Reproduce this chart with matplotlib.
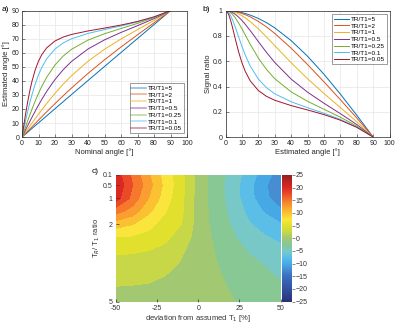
import numpy as np
import matplotlib.pyplot as plt
from matplotlib.colors import LinearSegmentedColormap

# nominal flip angle (deg)
angle = [0, 1, 2, 3, 4, 5, 6, 8, 10, 12, 15, 20, 25, 30, 40, 50, 60, 70, 80, 90]

labels = ['TR/T1=5', 'TR/T1=2', 'TR/T1=1', 'TR/T1=0.5', 'TR/T1=0.25', 'TR/T1=0.1', 'TR/T1=0.05']

# a) estimated angle
est_5 = [0, 1.0, 2.0, 3.0, 4.0, 5.05, 6.06, 8.08, 10.10, 12.12, 15.14, 20.19, 25.22, 30.25, 40.27, 50.26, 60.22, 70.16, 80.08, 90]
est_2 = [0, 1.21, 2.43, 3.63, 4.84, 6.05, 7.26, 9.63, 12.06, 14.45, 17.99, 23.78, 29.43, 34.91, 45.32, 55.01, 64.11, 72.81, 81.35, 90]
est_1 = [0, 1.66, 3.31, 4.96, 6.61, 8.25, 9.88, 13.11, 16.29, 19.41, 23.96, 31.12, 37.70, 43.68, 54.01, 62.53, 69.84, 76.51, 83.06, 90]
est_05 = [0, 2.37, 4.74, 7.09, 9.42, 11.72, 14.01, 18.46, 22.75, 26.85, 32.58, 40.99, 48.02, 53.84, 62.72, 69.22, 74.50, 79.33, 84.32, 90]
est_025 = [0, 3.40, 6.78, 10.11, 13.39, 16.60, 19.73, 25.67, 31.15, 36.14, 42.68, 51.34, 57.73, 62.50, 69.06, 73.57, 77.31, 80.96, 85.03, 90]
est_01 = [0, 5.42, 10.75, 15.94, 20.90, 25.58, 29.97, 37.75, 44.25, 49.58, 55.78, 62.71, 67.06, 69.99, 73.81, 76.56, 79.13, 81.98, 85.46, 90]
est_005 = [0, 7.67, 15.12, 22.13, 28.56, 34.36, 39.48, 47.84, 54.08, 58.71, 63.57, 68.43, 71.24, 73.08, 75.58, 77.62, 79.76, 82.33, 85.61, 90]

# b) signal ratio
sr_5 = [1, .99985, .99936, .99860, .99752, .99612, .99441, .99012, .98451, .97772, .96527, .93859, .90469, .86388, .76298, .63926, .49664, .33948, .17235, 0]
sr_2 = [1, .99978, .99910, .99799, .99643, .99442, .99198, .98591, .97792, .96839, .95113, .91506, .87091, .82001, .70315, .57340, .43662, .29555, .15044, 0]
sr_1 = [1, .99958, .99833, .99625, .99335, .98965, .98516, .97392, .95983, .94313, .91383, .85611, .79124, .72313, .58771, .46132, .34464, .23325, .12080, 0]
sr_05 = [1, .99915, .99659, .99236, .98651, .97911, .97024, .94849, .92214, .89219, .84264, .75483, .66889, .59007, .45840, .35481, .26730, .18508, .09896, 0]
sr_025 = [1, .99824, .99302, .98446, .97279, .95829, .94128, .90127, .85578, .80758, .73507, .62467, .53385, .46172, .35735, .28277, .21974, .15716, .08671, 0]
sr_01 = [1, .99553, .98242, .96156, .93422, .90195, .86632, .79067, .71632, .64839, .56242, .45853, .38979, .34223, .27888, .23241, .18851, .13949, .07910, 0]
sr_005 = [1, .99106, .96539, .92634, .87826, .82551, .77183, .67114, .58662, .51933, .44501, .36760, .32163, .29102, .24896, .21436, .17768, .13348, .07655, 0]

# c) error map, rows = TR/T1, columns = deviation
deviation = [-50, -40, -30, -20, -10, 0, 10, 20, 30, 40, 50]
tr_ratio = [0.1, 0.5, 1, 1.5, 2, 2.5, 3, 3.5, 4, 4.5, 5]
err = [
    [20.3, 15.8, 11.6, 7.6, 4.3, 0.2, -2.4, -4.5, -7.3, -10.0, -12.8],
    [21.0, 16.4, 12.2, 8.0, 4.5, 0.2, -2.5, -4.8, -7.8, -10.8, -13.5],
    [20.0, 15.5, 11.2, 7.4, 4.3, 0.2, -2.4, -4.7, -7.6, -10.5, -13.0],
    [14.8, 12.7, 9.3, 6.4, 4.1, 0.2, -2.2, -4.3, -6.8, -9.0, -10.8],
    [9.9, 8.9, 7.0, 5.3, 3.7, 0.15, -2.0, -3.9, -5.9, -7.5, -8.6],
    [6.2, 6.0, 5.4, 4.3, 2.7, 0.1, -1.6, -3.3, -4.9, -6.0, -7.0],
    [4.2, 4.1, 3.8, 3.2, 1.6, 0.1, -1.3, -2.6, -3.9, -4.8, -5.6],
    [3.0, 2.9, 2.7, 2.3, 1.0, 0.0, -1.1, -2.1, -3.2, -3.9, -4.6],
    [1.9, 1.9, 1.7, 1.25, 0.7, 0.0, -0.9, -1.7, -2.6, -3.3, -4.0],
    [1.1, 1.0, 0.9, 0.7, 0.5, 0.0, -0.7, -1.4, -2.2, -2.8, -3.4],
    [0.6, 0.5, 0.5, 0.4, 0.3, 0.0, -0.6, -1.1, -1.8, -2.4, -3.0],
]

colors = ['#0072BD', '#D95319', '#EDB120', '#7E2F8E', '#77AC30', '#4DBEEE', '#A2142F']
sa_list = [est_5, est_2, est_1, est_05, est_025, est_01, est_005]
sr_list = [sr_5, sr_2, sr_1, sr_05, sr_025, sr_01, sr_005]

plt.rcParams['font.family'] = ['Liberation Sans', 'DejaVu Sans']
fig = plt.figure(figsize=(4, 3.24), dpi=100)


def style_axes(ax):
    ax.grid(True, color='#e6e6e6', linewidth=0.5)
    ax.set_axisbelow(True)
    ax.tick_params(direction='in', labelsize=5, length=2, width=0.4, colors='#262626', pad=2)
    for s in ax.spines.values():
        s.set_color('#262626')
        s.set_linewidth(0.5)


def small_legend(ax, loc, anchor):
    lg = ax.legend(loc=loc, fontsize=4.6, frameon=True, fancybox=False,
                   edgecolor='#262626', handlelength=2.3, handletextpad=0.3,
                   labelspacing=0.2, borderpad=0.3, borderaxespad=0.2,
                   bbox_to_anchor=anchor)
    lg.get_frame().set_linewidth(0.4)
    return lg


ax1 = fig.add_axes([0.055, 0.577, 0.4125, 0.39])
for y, c, lb in zip(sa_list, colors, labels):
    ax1.plot(angle, y, color=c, lw=0.7, label=lb)
ax1.set_xlim(0, 100)
ax1.set_ylim(0, 90)
ax1.set_xticks(range(0, 101, 10))
ax1.set_yticks(range(0, 91, 10))
ax1.set_xlabel('Nominal angle [°]', fontsize=5.5, labelpad=1, color='#262626')
ax1.set_ylabel('Estimated angle [°]', fontsize=5.5, labelpad=1, color='#262626')
style_axes(ax1)
leg = small_legend(ax1, 'lower right', (0.99, 0.02))
for ln in leg.get_lines():
    ln.set_alpha(0.45)
    ln.set_linewidth(1.2)
fig.text(0.005, 0.965, 'a)', fontsize=6)

ax2 = fig.add_axes([0.564, 0.577, 0.41, 0.39])
for y, c, lb in zip(sr_list, colors, labels):
    ax2.plot(angle, y, color=c, lw=0.7, label=lb)
ax2.set_xlim(0, 100)
ax2.set_ylim(0, 1)
ax2.set_xticks(range(0, 101, 10))
ax2.set_yticks([0, 0.2, 0.4, 0.6, 0.8, 1])
ax2.set_yticklabels(['0', '0.2', '0.4', '0.6', '0.8', '1'])
ax2.set_xlabel('Estimated angle [°]', fontsize=5.5, labelpad=1, color='#262626')
ax2.set_ylabel('Signal ratio', fontsize=5.5, labelpad=1, color='#262626')
style_axes(ax2)
small_legend(ax2, 'upper right', (0.99, 0.98))
fig.text(0.505, 0.965, 'b)', fontsize=6)

# c) panel
cmap = LinearSegmentedColormap.from_list('err', [
    (0.00, '#283278'), (0.10, '#3250a0'), (0.20, '#3c6ebe'), (0.25, '#468cd2'),
    (0.30, '#46aae6'), (0.35, '#5abee6'), (0.40, '#78c8c8'), (0.45, '#87c896'),
    (0.50, '#a0c873'), (0.55, '#c8d746'), (0.60, '#e1e12d'), (0.65, '#fae63c'),
    (0.70, '#fac332'), (0.75, '#faa032'), (0.80, '#f5782d'), (0.85, '#eb4b28'),
    (0.90, '#dc2823'), (1.00, '#961e1e')])

ax3 = fig.add_axes([0.289, 0.069, 0.413, 0.391])
X, Y = np.meshgrid(deviation, tr_ratio)
levels = np.arange(-26.25, 26.3, 2.5)
cf = ax3.contourf(X, Y, np.array(err), levels=levels, cmap=cmap, vmin=-25, vmax=25)
ax3.set_xlim(-50, 50)
ax3.set_ylim(5, 0.1)
ax3.set_xticks([-50, -25, 0, 25, 50])
ax3.set_xticklabels(['-50', '-25', '0', '25', '50'])
ax3.set_yticks([0.1, 0.5, 1, 2, 5])
ax3.set_yticklabels(['0.1', '0.5', '1', '2', '5'])
ax3.tick_params(direction='in', labelsize=5, length=2, width=0.5, colors='#333333', pad=2)
ax3.tick_params(axis='x', pad=2.5)
for s in ax3.spines.values():
    s.set_visible(False)
ax3.set_xlabel('deviation from assumed T$_1$ [%]', fontsize=5.5, labelpad=0.5, color='#333333')
ax3.set_ylabel('T$_R$/ T$_1$ ratio', fontsize=5.5, labelpad=1, color='#333333')
fig.text(0.23, 0.465, 'c)', fontsize=6)

cax = fig.add_axes([0.706, 0.069, 0.0235, 0.391])
sm = plt.cm.ScalarMappable(cmap=cmap, norm=plt.Normalize(-25, 25))
cb = fig.colorbar(sm, cax=cax, ticks=range(-25, 26, 5))
cb.outline.set_visible(False)
cax.tick_params(labelsize=5, length=2, width=0.4, pad=1, colors='#333333')

fig.savefig('out.png', dpi=100)
